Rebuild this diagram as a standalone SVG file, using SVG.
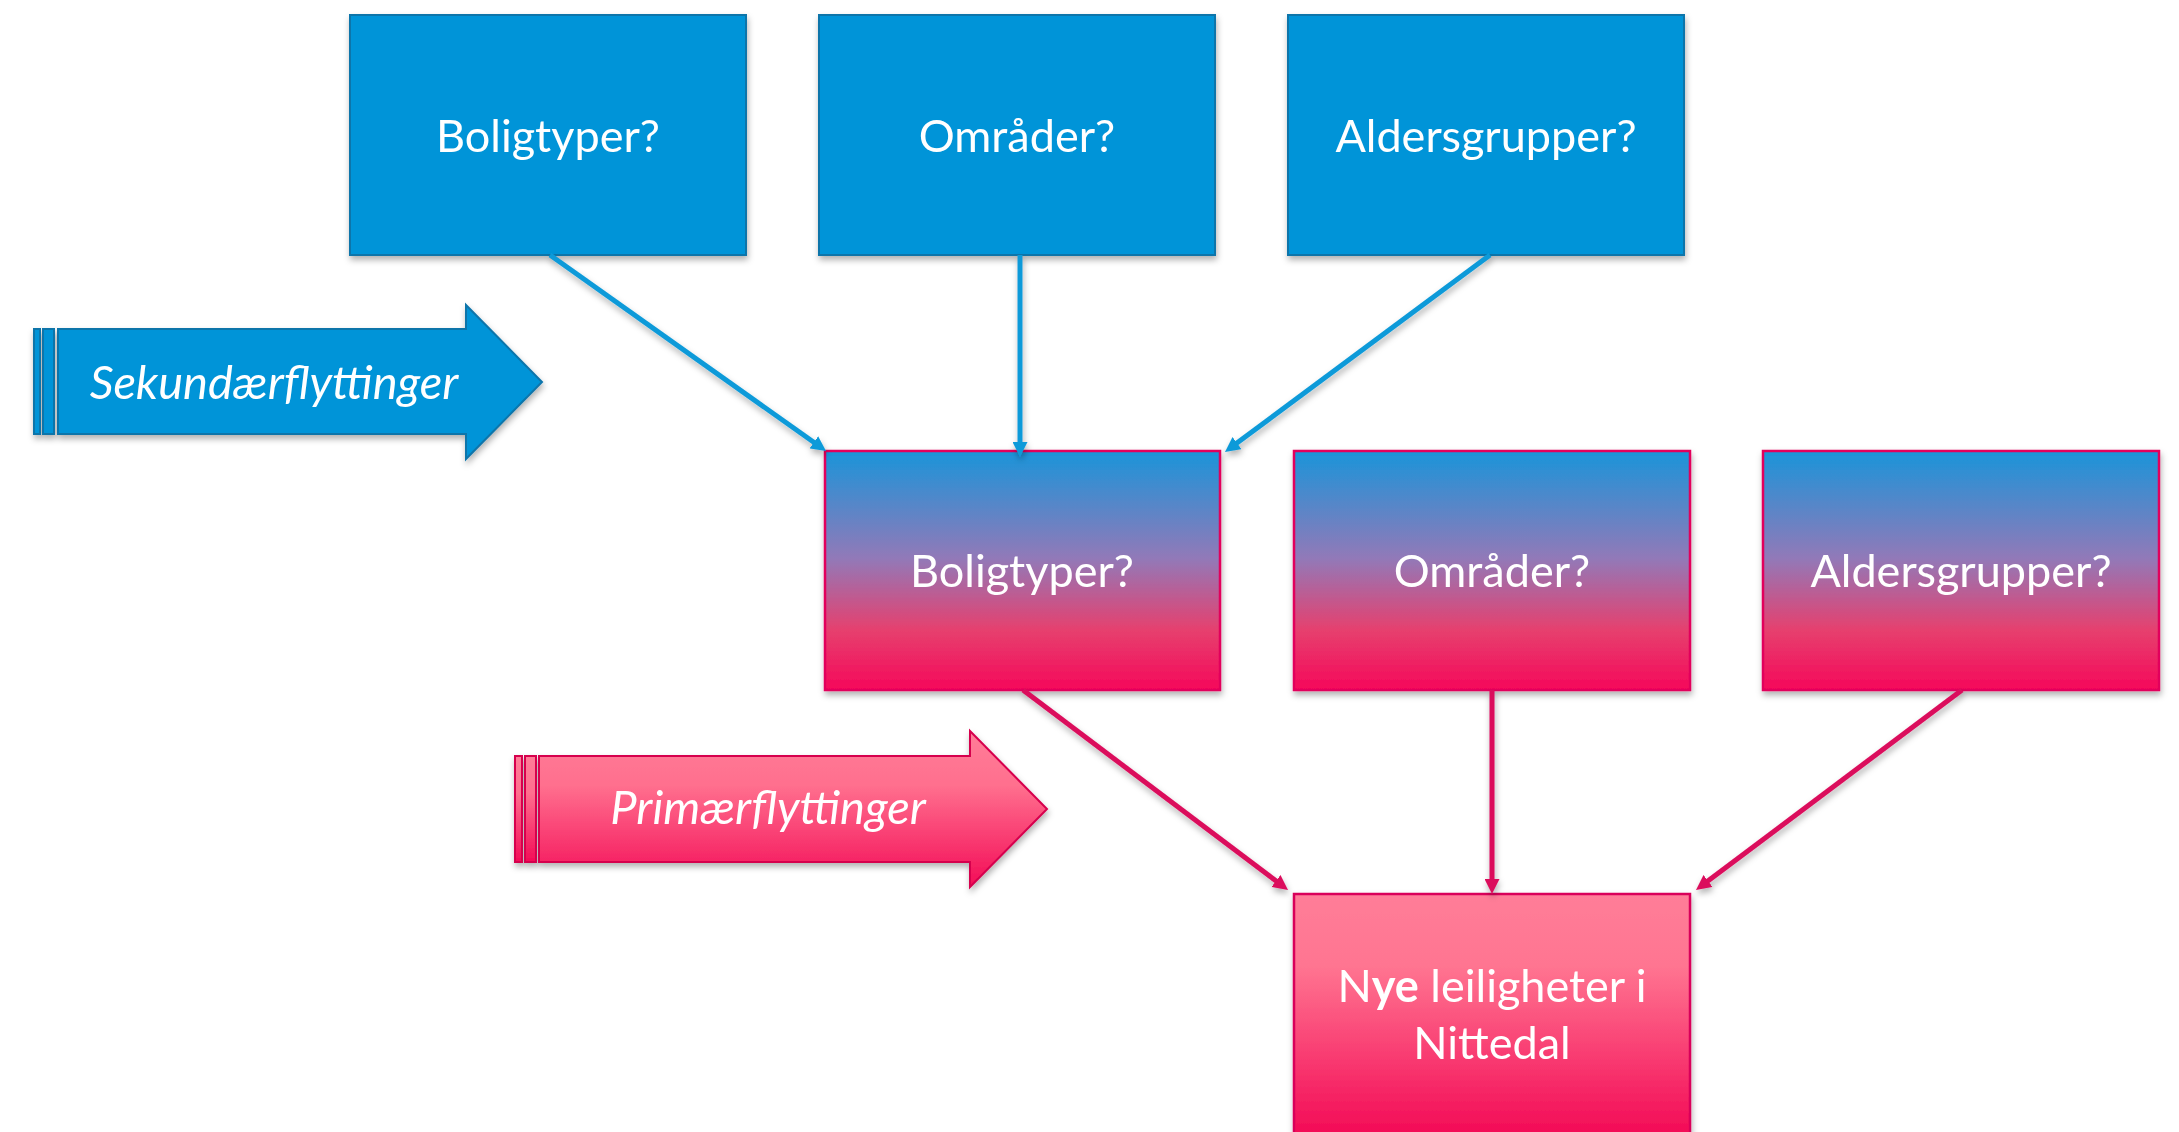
<svg xmlns="http://www.w3.org/2000/svg" width="2179" height="1132" viewBox="0 0 2179 1132">
<defs>
<filter id="sh" x="-10%" y="-10%" width="120%" height="130%">
<feDropShadow dx="1" dy="4" stdDeviation="3" flood-color="#000" flood-opacity="0.3"/>
</filter>
<linearGradient id="gMid" x1="0" y1="0" x2="0" y2="1">
<stop offset="0" stop-color="#1A94D9"/>
<stop offset="0.45" stop-color="#9279B8"/>
<stop offset="0.75" stop-color="#E6406E"/>
<stop offset="1" stop-color="#F5085A"/>
</linearGradient>
<linearGradient id="gPink" x1="0" y1="0" x2="0" y2="1">
<stop offset="0" stop-color="#FF7D98"/>
<stop offset="0.35" stop-color="#FF6F8E"/>
<stop offset="1" stop-color="#F30C57"/>
</linearGradient>
<linearGradient id="gBot" x1="0" y1="894" x2="0" y2="1132" gradientUnits="userSpaceOnUse">
<stop offset="0" stop-color="#FF7D98"/>
<stop offset="0.3" stop-color="#FF7591"/>
<stop offset="1" stop-color="#F30C57"/>
</linearGradient>
<marker id="aBlue" viewBox="0 0 10 10" refX="4" refY="5" markerWidth="3" markerHeight="3" orient="auto" markerUnits="strokeWidth">
<path d="M0,0 L10,5 L0,10 z" fill="#0E9AD9"/>
</marker>
<marker id="aPink" viewBox="0 0 10 10" refX="4" refY="5" markerWidth="3" markerHeight="3" orient="auto" markerUnits="strokeWidth">
<path d="M0,0 L10,5 L0,10 z" fill="#DB0A5B"/>
</marker>
<style>
.blue{fill:#0094D8;stroke:#0A74AA;stroke-width:2}
.pk{fill:url(#gPink);stroke:#D6004E;stroke-width:2}
.mid{fill:url(#gMid);stroke:#E2005C;stroke-width:2.5}
.bot{fill:url(#gBot);stroke:#D9005A;stroke-width:2.5}
.t{font-family:Lato,"Liberation Sans",sans-serif;font-size:45px;fill:#fff;text-anchor:middle}
.ti{font-family:Lato,"Liberation Sans",sans-serif;font-size:47px;font-style:italic;fill:#fff;text-anchor:middle}
.cb{fill:none;stroke:#0E9AD9;stroke-width:5;marker-end:url(#aBlue)}
.cp{fill:none;stroke:#DB0A5B;stroke-width:5;marker-end:url(#aPink)}
</style>
</defs>
<rect width="2179" height="1132" fill="#fff"/>

<g id="arrow-sekundaer" filter="url(#sh)">
<rect x="34" y="329" width="6" height="105" class="blue"/>
<rect x="43" y="329" width="11" height="105" class="blue"/>
<path d="M58,329 H466 V305 L542,382 L466,459 V434 H58 Z" class="blue"/>
<text x="274" y="399" class="ti">Sekundærflyttinger</text>
</g>

<g id="arrow-primaer" filter="url(#sh)">
<rect x="515" y="756" width="7" height="106" class="pk"/>
<rect x="525" y="756" width="11" height="106" class="pk"/>
<path d="M539,756 H970 V731 L1047,809 L970,887 V862 H539 Z" class="pk"/>
<text x="768" y="824" class="ti">Primærflyttinger</text>
</g>

<g id="top-boligtyper" filter="url(#sh)">
<rect x="350" y="15" width="396" height="240" class="blue"/>
<text x="548" y="152" class="t">Boligtyper?</text>
</g>
<g id="top-omrader" filter="url(#sh)">
<rect x="819" y="15" width="396" height="240" class="blue"/>
<text x="1017" y="152" class="t">Områder?</text>
</g>
<g id="top-aldersgrupper" filter="url(#sh)">
<rect x="1288" y="15" width="396" height="240" class="blue"/>
<text x="1486" y="152" class="t">Aldersgrupper?</text>
</g>

<g id="mid-boligtyper" filter="url(#sh)">
<rect x="825" y="451" width="395" height="239" class="mid"/>
<text x="1022" y="587" class="t">Boligtyper?</text>
</g>
<g id="mid-omrader" filter="url(#sh)">
<rect x="1294" y="451" width="396" height="239" class="mid"/>
<text x="1492" y="587" class="t">Områder?</text>
</g>
<g id="mid-aldersgrupper" filter="url(#sh)">
<rect x="1763" y="451" width="396" height="239" class="mid"/>
<text x="1961" y="587" class="t">Aldersgrupper?</text>
</g>

<g id="nye-leiligheter" filter="url(#sh)">
<rect x="1294" y="894" width="396" height="250" class="bot"/>
<text x="1492" y="1002" class="t" font-size="44">N<tspan font-weight="bold">ye</tspan> leiligheter i</text>
<text x="1492" y="1059" class="t" font-size="44">Nittedal</text>
</g>

<g id="connectors" filter="url(#sh)">
<path d="M550,255 L818.7,445.8" class="cb"/>
<path d="M1020,255 L1020,448" class="cb"/>
<path d="M1490,255 L1232.2,446.6" class="cb"/>
<path d="M1023,690 L1280.8,884.6" class="cp"/>
<path d="M1492,690 L1492,885" class="cp"/>
<path d="M1962,690 L1703.2,884.6" class="cp"/>
</g>
</svg>
